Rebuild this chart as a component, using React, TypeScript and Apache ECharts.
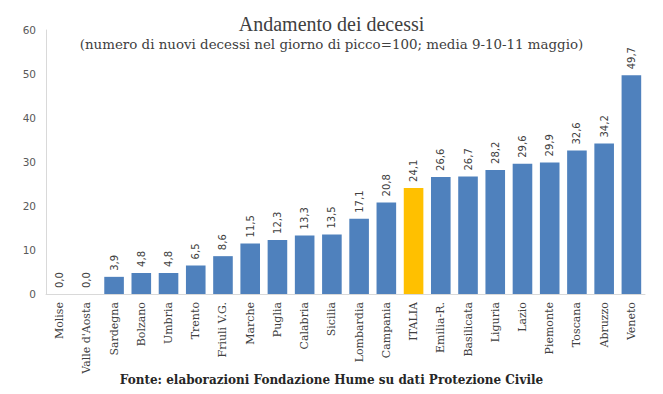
import React, { useEffect, useRef } from "react";
import * as echarts from "echarts";

const categories = ["Molise", "Valle d'Aosta", "Sardegna", "Bolzano", "Umbria", "Trento", "Friuli V.G.", "Marche", "Puglia", "Calabria", "Sicilia", "Lombardia", "Campania", "ITALIA", "Emilia-R.", "Basilicata", "Liguria", "Lazio", "Piemonte", "Toscana", "Abruzzo", "Veneto"];
const values = [0.0, 0.0, 3.9, 4.8, 4.8, 6.5, 8.6, 11.5, 12.3, 13.3, 13.5, 17.1, 20.8, 24.1, 26.6, 26.7, 28.2, 29.6, 29.9, 32.6, 34.2, 49.7];
const highlight = "ITALIA";
const yTicks = [0, 10, 20, 30, 40, 50, 60];

const SERIF = "'DejaVu Serif', serif";
const TSERIF = "'Liberation Serif', serif";
const SANS = "'DejaVu Sans', sans-serif";

export default function App() {
  const ref = useRef<HTMLDivElement>(null);
  useEffect(() => {
    const chart = echarts.init(ref.current!, null, { renderer: "svg" });
    chart.setOption({
      animation: false,
      backgroundColor: "#fff",
      title: [
        {
          text: "Andamento dei decessi",
          left: "center",
          top: 9,
          textStyle: { fontFamily: TSERIF, fontSize: 20, fontWeight: "normal", color: "#404040" },
        },
        {
          text: "(numero di nuovi decessi nel giorno di picco=100; media 9-10-11 maggio)",
          left: "center",
          top: 33,
          textStyle: { fontFamily: SERIF, fontSize: 13.4, fontWeight: "normal", color: "#404040" },
        },
        {
          text: "Fonte: elaborazioni Fondazione Hume su dati Protezione Civile",
          left: "center",
          top: 369,
          textStyle: { fontFamily: SERIF, fontSize: 12, fontWeight: "bold", color: "#262626" },
        },
      ],
      grid: { left: 46, right: 18, top: 30, bottom: 100, containLabel: false },
      xAxis: {
        type: "category",
        data: categories,
        axisLine: { lineStyle: { color: "#D9D9D9" } },
        axisTick: { show: false },
        axisLabel: {
          rotate: 90,
          interval: 0,
          margin: 8,
          fontFamily: SERIF,
          fontSize: 11,
          color: "#404040",
        },
      },
      yAxis: {
        type: "value",
        min: yTicks[0],
        max: yTicks[yTicks.length - 1],
        interval: 10,
        axisLine: { show: true, lineStyle: { color: "#D9D9D9" } },
        axisTick: { show: false },
        splitLine: { show: false },
        axisLabel: { fontFamily: SANS, fontSize: 10.5, color: "#595959", margin: 10 },
      },
      series: [
        {
          type: "bar",
          data: values.map((v, i) => ({
            value: v,
            itemStyle: { color: categories[i] === highlight ? "#FFC000" : "#4F81BD" },
          })),
          barCategoryGap: "28%",
          label: {
            show: true,
            position: "top",
            rotate: 90,
            align: "left",
            verticalAlign: "middle",
            distance: 6,
            fontFamily: SANS,
            fontSize: 10,
            color: "#404040",
            formatter: (p: any) => Number(p.value).toFixed(1).replace(".", ","),
          },
        },
      ],
    });
    return () => chart.dispose();
  }, []);
  return <div ref={ref} style={{ position: "absolute", left: 0, top: 0, width: 663, height: 394 }} />;
}
